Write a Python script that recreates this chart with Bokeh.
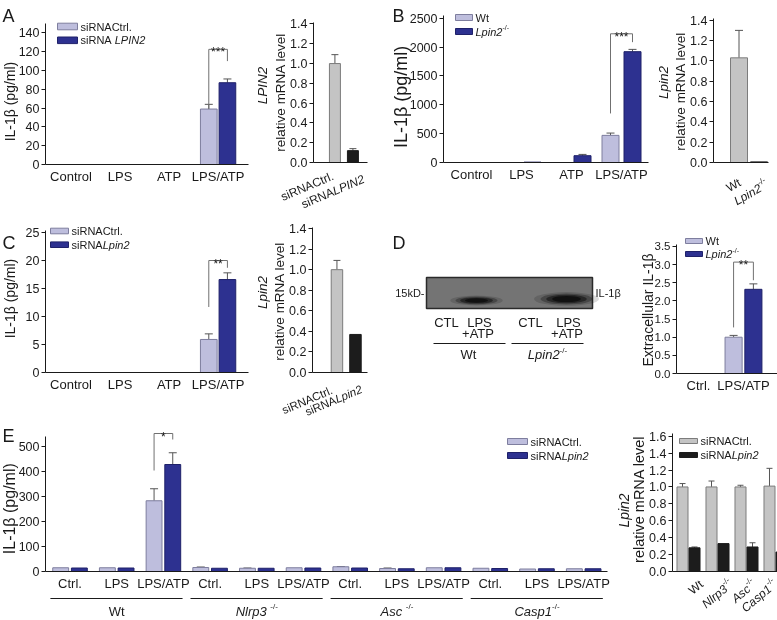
import math
from bokeh.plotting import figure
from bokeh.models import (Range1d, FixedTicker, Label, BoxAnnotation, Whisker, LinearAxis, Grid,
                          ColumnDataSource, TeeHead, NumeralTickFormatter)
from bokeh.layouts import row, column
from bokeh.embed import file_html
from bokeh.resources import INLINE

# ---------------- data ----------------
A_cats = ["Control", "LPS", "ATP", "LPS/ATP"]
A_ctrl = [0, 0, 0, 59]
A_ctrl_err = [0, 0, 0, 64]
A_lpin = [0, 0, 0, 87]
A_lpin_err = [0, 0, 0, 91]
A_yticks = [0, 20, 40, 60, 80, 100, 120, 140]
A_sig = [59, 122.5, 110]          # left leg bottom, bracket top, right leg bottom
A_mrna = [1.0, 0.12]
A_mrna_err = [1.09, 0.14]

mrna_yticks = [0, 0.2, 0.4, 0.6, 0.8, 1.0, 1.2, 1.4]

B_cats = ["Control", "LPS", "ATP", "LPS/ATP"]
B_wt = [0, 0, 0, 470]
B_wt_err = [0, 0, 0, 510]
B_ko = [0, 6, 118, 1920]
B_ko_err = [0, 6, 140, 1960]
B_yticks = [0, 500, 1000, 1500, 2000, 2500]
B_sig = [850, 2230, 2085]
B_mrna = [1.03, 0.006]
B_mrna_err = [1.30, 0.006]

C_cats = ["Control", "LPS", "ATP", "LPS/ATP"]
C_ctrl = [0, 0, 0, 5.9]
C_ctrl_err = [0, 0, 0, 6.9]
C_lpin = [0, 0, 0, 16.6]
C_lpin_err = [0, 0, 0, 17.8]
C_yticks = [0, 5, 10, 15, 20, 25]
C_sig = [11.7, 20, 18.7]
C_mrna = [1.0, 0.37]
C_mrna_err = [1.09, 0.37]

D_cats = ["Ctrl.", "LPS/ATP"]
D_wt = [0, 1.0]
D_wt_err = [0, 1.05]
D_ko = [0, 2.32]
D_ko_err = [0, 2.47]
D_yticks = [0, 0.5, 1.0, 1.5, 2.0, 2.5, 3.0, 3.5]
D_sig = [1.27, 3.07, 2.57]

E_genotypes = ["Wt", "Nlrp3", "Asc", "Casp1"]
E_treatments = ["Ctrl.", "LPS", "LPS/ATP"]
E_ctrl = [15, 15, 283, 16, 13, 15, 19, 12, 15, 13, 10, 11]
E_ctrl_err = [15, 15, 331, 18, 14, 15, 20, 14, 15, 13, 10, 11]
E_lpin = [14, 14, 428, 13, 13, 14, 14, 11, 15, 12, 11, 11]
E_lpin_err = [14, 14, 475, 13, 13, 14, 14, 11, 15, 12, 11, 11]
E_yticks = [0, 100, 200, 300, 400, 500]
E_sig = [404, 552, 528]
E_mrna_ctrl = [1.0, 1.0, 1.0, 1.01]
E_mrna_ctrl_err = [1.04, 1.07, 1.02, 1.22]
E_mrna_lpin = [0.28, 0.33, 0.29, 0.23]
E_mrna_lpin_err = [0.29, 0.33, 0.34, 0.28]
E_mrna_yticks = [0, 0.2, 0.4, 0.6, 0.8, 1.0, 1.2, 1.4, 1.6]

# ---------------- style ----------------
FONT = "Liberation Sans"
TXT = "#1a1a1a"
LIGHT, LIGHT_LINE = "#bebedd", "#7e7e9e"
DARK, DARK_LINE = "#2d3190", "#1f2169"
GRAY, GRAY_LINE = "#c4c4c4", "#7c7c7c"
BLACK = "#1c1c1c"
ERR = "#555555"
BRK = "#707070"

CW = {' ': 278, '-': 333, '/': 278, '.': 278, '1': 556, '2': 556, '3': 556, '5': 556,
      'A': 667, 'C': 722, 'I': 278, 'L': 556, 'N': 722, 'P': 667, 'R': 722, 'W': 944,
      'T': 611, 'S': 667, 'D': 722, 'a': 556, 'c': 500, 'e': 556, 'i': 222, 'l': 222,
      'n': 556, 'p': 556, 'r': 333, 's': 500, 't': 278, 'k': 500, '+': 584}

CAN = {}


def tw(s, size):
    return sum(CW.get(ch, 556) for ch in s) * size / 1000.0


def style_axis(ax, size="12.5px"):
    ax.axis_line_color = TXT
    ax.axis_line_width = 1
    ax.major_tick_line_color = TXT
    ax.major_tick_out = 4
    ax.major_tick_in = 0
    ax.minor_tick_line_color = None
    ax.major_label_text_font = FONT
    ax.major_label_text_color = TXT
    ax.major_label_standoff = 2
    ax.major_label_text_font_size = size


def base_fig(canvas, xrng, yrng):
    cx, cy, w, h = canvas
    p = figure(width=w, height=h, x_range=Range1d(*xrng), y_range=Range1d(*yrng),
               min_border_left=0, min_border_right=0, min_border_top=0, min_border_bottom=0,
               output_backend="svg", toolbar_location=None, tools="",
               x_axis_location=None, y_axis_location=None)
    try:
        p.frame_align = False
    except Exception:
        pass
    p.center = [c for c in p.center if not isinstance(c, Grid)]
    p.renderers = [r for r in p.renderers if not isinstance(r, Grid)]
    p.outline_line_color = None
    p.background_fill_color = None
    p.border_fill_color = None
    CAN[p.id] = canvas
    return p


def panel(canvas, box, xr, yr, ysize="12.5px"):
    """canvas: (x, y, w, h) on the page; box: axes frame (left, right, top, bottom) on the page."""
    cx, cy, w, h = canvas
    FL, FR, FT, FB = box
    kx = (FR - FL) / (xr[1] - xr[0])
    ky = (FB - FT) / (yr[1] - yr[0])
    xs = xr[0] - (FL - cx) / kx
    xe = xr[1] + (cx + w - FR) / kx
    ys = yr[0] - (cy + h - FB) / ky
    ye = yr[1] + (FT - cy) / ky
    p = base_fig(canvas, (xs, xe), (ys, ye))
    yax = LinearAxis(fixed_location=xr[0], bounds=yr)
    xax = LinearAxis(fixed_location=yr[0], bounds=xr)
    style_axis(yax, ysize)
    style_axis(xax)
    p.add_layout(yax, "left")
    p.add_layout(xax, "below")
    return p, xax, yax


def setup_x(xax, labels):
    xax.ticker = FixedTicker(ticks=list(range(len(labels))))
    xax.major_label_overrides = {i: lab for i, lab in enumerate(labels)}
    xax.major_tick_line_color = None
    xax.major_tick_out = 0
    xax.major_label_text_font_size = "13px"
    xax.major_label_standoff = 4


def setup_y(yax, ticks, fmt=None):
    yax.ticker = FixedTicker(ticks=ticks)
    if fmt:
        yax.formatter = NumeralTickFormatter(format=fmt)


def bars(p, xs, vals, errs, width, fill, line, cap=8):
    p.vbar(x=xs, top=vals, width=width, fill_color=fill, line_color=line, line_width=1)
    keep = [(x, v, e) for x, v, e in zip(xs, vals, errs) if e > v]
    if keep:
        src = ColumnDataSource(dict(base=[k[0] for k in keep], lower=[k[1] for k in keep],
                                    upper=[k[2] for k in keep]))
        p.add_layout(Whisker(source=src, base="base", lower="lower", upper="upper",
                             dimension="height", line_color=ERR, line_width=1,
                             upper_head=TeeHead(size=cap, line_color=ERR, line_width=1),
                             lower_head=None))


def mtext(p, X, Y, pieces, angle=0.0, align="left", baseline="middle", xdata=None, dx0=0.0):
    """X, Y: page coordinates of the anchor (X ignored when xdata is given)."""
    cx, cy, w, h = CAN[p.id]
    sy0 = cy + h - Y
    th = math.radians(angle)
    c, s = math.cos(th), math.sin(th)
    widths = [tw(t, sz) for (t, st, sz, r) in pieces]
    total = sum(widths)
    anchor = {"left": 0.0, "center": total / 2.0, "right": total}[align]
    a = 0.0
    for (t, st, sz, r), wd in zip(pieces, widths):
        d = a - anchor
        dx = d * c - r * s + dx0
        dy = d * s + r * c
        common = dict(text=t, angle=th, text_align="left", text_baseline=baseline,
                      text_font=FONT, text_font_size=f"{sz}px", text_font_style=st,
                      text_color=TXT, y=sy0 + dy, y_units="screen")
        if xdata is not None:
            lbl = Label(x=xdata, x_units="data", x_offset=dx, **common)
        else:
            lbl = Label(x=X - cx + dx, x_units="screen", **common)
        p.add_layout(lbl)
        a += wd


def letter(p, X, Y, t):
    mtext(p, X, Y, [(t, "normal", 18, 0)], baseline="alphabetic")


def legend_item(p, X, Ytop, w, h, fill, line, pieces, gap=3):
    cx, cy, cw, ch = CAN[p.id]
    p.add_layout(BoxAnnotation(left=X - cx, right=X - cx + w, top=cy + ch - Ytop,
                               bottom=cy + ch - Ytop - h,
                               left_units="screen", right_units="screen",
                               bottom_units="screen", top_units="screen",
                               fill_color=fill, fill_alpha=1, line_color=line, line_width=1,
                               line_alpha=1))
    mtext(p, X + w + gap, Ytop + h / 2.0, pieces)


def bracket(p, xl, xr, sig, text):
    yl, ytop, yr = sig
    p.line([xl, xl, xr, xr], [yl, ytop, ytop, yr], line_color=BRK, line_width=1)
    p.add_layout(Label(x=(xl + xr) / 2.0, y=ytop, x_units="data", y_units="data", text=text,
                       text_align="center", text_baseline="alphabetic", y_offset=-3,
                       text_font=FONT, text_font_size="12px", text_color=TXT))


def ylab(p, X, Y, text, size, style="normal"):
    mtext(p, X, Y, [(text, style, size, 0)], angle=90, align="center")


SUP = 8

# ---------------- Panel A ----------------
pA, xA, yA = panel((0, 0, 255, 212), (45, 248, 23, 164), (-0.52, 3.62), (0, 150))
setup_y(yA, A_yticks)
setup_x(xA, A_cats)
ix = list(range(len(A_cats)))
bars(pA, [i - 0.19 for i in ix], A_ctrl, A_ctrl_err, 0.34, LIGHT, LIGHT_LINE)
bars(pA, [i + 0.19 for i in ix], A_lpin, A_lpin_err, 0.34, DARK, DARK_LINE)
bracket(pA, 3 - 0.19, 3 + 0.19, A_sig, "***")
letter(pA, 2, 15, "A")
ylab(pA, 9, 100, "IL-1β (pg/ml)", 14)
legend_item(pA, 57, 22.7, 20, 6.6, LIGHT, LIGHT_LINE, [("siRNACtrl.", "normal", 11, 0)])
legend_item(pA, 57, 36.5, 20, 6.6, DARK, DARK_LINE,
            [("siRNA ", "normal", 11, 0), ("LPIN2", "italic", 11, 0)])

pAm, xAm, yAm = panel((255, 0, 135, 212), (313, 367, 22, 162), (-1.19, 1.81), (0, 1.415))
setup_y(yAm, mrna_yticks, "0.0")
xAm.ticker = FixedTicker(ticks=[])
bars(pAm, [0], A_mrna[:1], A_mrna_err[:1], 0.61, GRAY, GRAY_LINE, cap=7)
bars(pAm, [1], A_mrna[1:], A_mrna_err[1:], 0.61, BLACK, BLACK, cap=7)
ylab(pAm, 262, 85, "LPIN2", 13.5, "italic")
ylab(pAm, 280, 93, "relative mRNA level", 13.5)
mtext(pAm, 0, 175, [("siRNACtrl.", "normal", 12, 0)], angle=23, align="right", xdata=0, dx0=-2)
mtext(pAm, 0, 178, [("siRNA", "normal", 12, 0), ("LPIN2", "italic", 12, 0)],
      angle=23, align="right", xdata=1, dx0=11)

# ---------------- Panel B ----------------
pB, xB, yB = panel((390, 0, 260, 212), (443, 648, 15, 162), (-0.56, 3.54), (0, 2547))
setup_y(yB, B_yticks)
setup_x(xB, B_cats)
ix = list(range(len(B_cats)))
bars(pB, [i - 0.22 for i in ix], B_wt, B_wt_err, 0.34, LIGHT, LIGHT_LINE)
bars(pB, [i + 0.22 for i in ix], B_ko, B_ko_err, 0.34, DARK, DARK_LINE)
bracket(pB, 3 - 0.22, 3 + 0.22, B_sig, "***")
letter(pB, 392, 15, "B")
ylab(pB, 400, 95, "IL-1β (pg/ml)", 18)
legend_item(pB, 455, 14, 17, 6, LIGHT, LIGHT_LINE, [("Wt", "normal", 11, 0)])
legend_item(pB, 455, 28, 17, 6, DARK, DARK_LINE, [("Lpin2", "italic", 11, 0), ("-/-", "normal", 7, 4)])

pBm, xBm, yBm = panel((650, 0, 127, 212), (713, 768, 18, 162), (-1.275, 1.475), (0, 1.417))
setup_y(yBm, mrna_yticks, "0.0")
xBm.ticker = FixedTicker(ticks=[])
bars(pBm, [0], B_mrna[:1], B_mrna_err[:1], 0.85, GRAY, GRAY_LINE, cap=8)
bars(pBm, [1], B_mrna[1:], B_mrna_err[1:], 0.85, BLACK, BLACK, cap=8)
ylab(pBm, 663, 82, "Lpin2", 13.5, "italic")
ylab(pBm, 680, 92, "relative mRNA level", 13.5)
mtext(pBm, 0, 181, [("Wt", "normal", 12, 0)], angle=30, align="right", xdata=0, dx0=1)
mtext(pBm, 0, 183, [("Lpin2", "italic", 12, 0), ("-/-", "normal", SUP, 4.5)],
      angle=30, align="right", xdata=1, dx0=8)

# ---------------- Panel C ----------------
pC, xC, yC = panel((0, 212, 255, 206), (45, 248, 230, 372), (-0.52, 3.62), (0, 25.36))
setup_y(yC, C_yticks)
setup_x(xC, C_cats)
ix = list(range(len(C_cats)))
bars(pC, [i - 0.19 for i in ix], C_ctrl, C_ctrl_err, 0.34, LIGHT, LIGHT_LINE)
bars(pC, [i + 0.19 for i in ix], C_lpin, C_lpin_err, 0.34, DARK, DARK_LINE)
bracket(pC, 3 - 0.19, 3 + 0.19, C_sig, "**")
letter(pC, 2, 242, "C")
ylab(pC, 9, 297, "IL-1β (pg/ml)", 14)
legend_item(pC, 50, 227.7, 18, 5.6, LIGHT, LIGHT_LINE, [("siRNACtrl.", "normal", 11, 0)])
legend_item(pC, 50, 241.4, 18, 5.6, DARK, DARK_LINE,
            [("siRNA", "normal", 11, 0), ("Lpin2", "italic", 11, 0)])

pCm, xCm, yCm = panel((255, 212, 135, 206), (312, 367, 227, 372), (-1.32, 1.65), (0, 1.41))
setup_y(yCm, mrna_yticks, "0.0")
xCm.ticker = FixedTicker(ticks=[])
bars(pCm, [0], C_mrna[:1], C_mrna_err[:1], 0.62, GRAY, GRAY_LINE, cap=7)
bars(pCm, [1], C_mrna[1:], C_mrna_err[1:], 0.62, BLACK, BLACK, cap=7)
ylab(pCm, 262, 292, "Lpin2", 13.5, "italic")
ylab(pCm, 279, 302, "relative mRNA level", 13.5)
mtext(pCm, 0, 389, [("siRNACtrl.", "normal", 11.5, 0)], angle=23, align="right", xdata=0, dx0=-5)
mtext(pCm, 0, 388, [("siRNA", "normal", 11.5, 0), ("Lpin2", "italic", 11.5, 0)],
      angle=23, align="right", xdata=1, dx0=6)

# ---------------- Panel D (blot) ----------------
pD = base_fig((390, 212, 250, 206), (390, 640), (418, 212))
pD.quad(left=[426], right=[592], top=[277], bottom=[308], fill_color="#747474",
        line_color="#2a2a2a", line_width=1.5)
for cxb, cyb, bw, bh in [(476, 300, 42, 8), (566, 298.5, 52, 11)]:
    for f, al in [(1.25, 0.15), (1.0, 0.3), (0.78, 0.5), (0.55, 0.7)]:
        pD.ellipse(x=[cxb], y=[cyb], width=[bw * f], height=[bh * f], width_units="screen",
                   height_units="screen", fill_color="#080808", fill_alpha=al, line_color=None)
pD.segment(x0=[433, 511], y0=[343, 343], x1=[505, 583], y1=[343, 343], line_color=TXT, line_width=1)
letter(pD, 392, 242, "D")
mtext(pD, 424, 292, [("15kD-", "normal", 11, 0)], align="right")
mtext(pD, 595, 292, [("IL-1β", "normal", 11, 0)])
for x0 in (446, 530):
    mtext(pD, x0, 322, [("CTL", "normal", 13, 0)], align="center")
for x0 in (479, 568):
    mtext(pD, x0, 322, [("LPS", "normal", 13, 0)], align="center")
    mtext(pD, x0 - 1, 333, [("+ATP", "normal", 13, 0)], align="center")
mtext(pD, 468, 354, [("Wt", "normal", 13, 0)], align="center")
mtext(pD, 547, 354, [("Lpin2", "italic", 13, 0), ("-/-", "normal", SUP, 4.5)], align="center")

pDr, xDr, yDr = panel((640, 212, 137, 206), (676, 777, 244, 373), (-0.489, 1.756), (0, 3.555),
                      ysize="11.5px")
setup_y(yDr, D_yticks, "0.0")
setup_x(xDr, D_cats)
ix = list(range(len(D_cats)))
bars(pDr, [i - 0.22 for i in ix], D_wt, D_wt_err, 0.38, LIGHT, LIGHT_LINE)
bars(pDr, [i + 0.22 for i in ix], D_ko, D_ko_err, 0.38, DARK, DARK_LINE)
bracket(pDr, 1 - 0.22, 1 + 0.22, D_sig, "**")
ylab(pDr, 647, 310, "Extracellular IL-1β", 14)
legend_item(pDr, 685, 238, 17, 5, LIGHT, LIGHT_LINE, [("Wt", "normal", 11, 0)])
legend_item(pDr, 685, 251, 17, 5, DARK, DARK_LINE, [("Lpin2", "italic", 11, 0), ("-/-", "normal", 7, 4)])

# ---------------- Panel E ----------------
pE, xE, yE = panel((0, 418, 610, 202), (45, 607, 436, 571), (-0.525, 11.51), (0, 540))
setup_y(yE, E_yticks)
E_labels = [t for g in E_genotypes for t in E_treatments]
setup_x(xE, E_labels)
nE = len(E_ctrl)
ix = list(range(nE))
bars(pE, [i - 0.2 for i in ix], E_ctrl, E_ctrl_err, 0.34, LIGHT, LIGHT_LINE)
bars(pE, [i + 0.2 for i in ix], E_lpin, E_lpin_err, 0.34, DARK, DARK_LINE)
bracket(pE, 2 - 0.2, 2 + 0.2, E_sig, "*")
ng = len(E_treatments)
nG = len(E_genotypes)
pE.segment(x0=[ng * g - 0.42 for g in range(nG)], y0=[-108] * nG,
           x1=[ng * g + 2.41 for g in range(nG)], y1=[-108] * nG,
           line_color=TXT, line_width=1)
for g, name in enumerate(E_genotypes):
    if g == 0:
        pieces = [(name, "normal", 13, 0)]
    elif g == 3:
        pieces = [(name, "italic", 13, 0), ("-/-", "normal", SUP, 5)]
    else:
        pieces = [(name + " ", "italic", 13, 0), ("-/-", "normal", SUP, 5)]
    mtext(pE, 0, 611, pieces, align="center", xdata=ng * g + 1)
letter(pE, 2, 435, "E")
ylab(pE, 9, 507, "IL-1β (pg/ml)", 16)
legend_item(pE, 507, 438, 20, 6, LIGHT, LIGHT_LINE, [("siRNACtrl.", "normal", 11, 0)])
legend_item(pE, 507, 452, 20, 6, DARK, DARK_LINE,
            [("siRNA", "normal", 11, 0), ("Lpin2", "italic", 11, 0)])

pEm, xEm, yEm = panel((610, 418, 167, 202), (672, 777, 433, 571), (-0.552, 3.069), (0, 1.632))
setup_y(yEm, E_mrna_yticks, "0.0")
xEm.ticker = FixedTicker(ticks=[])
ix = list(range(len(E_mrna_ctrl)))
bars(pEm, [i - 0.207 for i in ix], E_mrna_ctrl, E_mrna_ctrl_err, 0.38, GRAY, GRAY_LINE, cap=6)
bars(pEm, [i + 0.207 for i in ix], E_mrna_lpin, E_mrna_lpin_err, 0.38, BLACK, BLACK, cap=6)
ylab(pEm, 623, 510, "Lpin2", 14, "italic")
ylab(pEm, 638, 500, "relative mRNA level", 14.5)
legend_item(pEm, 679, 438, 18, 5, GRAY, GRAY_LINE, [("siRNACtrl.", "normal", 11, 0)])
legend_item(pEm, 679, 452, 18, 5, BLACK, BLACK,
            [("siRNA", "normal", 11, 0), ("Lpin2", "italic", 11, 0)])
em_dx = [13, 14, 8, 0]
for g, name in enumerate(E_genotypes):
    if g == 0:
        pieces = [(name, "normal", 12, 0)]
    else:
        pieces = [(name, "italic", 12, 0), ("-/-", "normal", SUP, 4.5)]
    mtext(pEm, 0, 582, pieces, angle=40, align="right", xdata=g, dx0=em_dx[g])

# ---------------- layout ----------------
root = column(row(pA, pAm, pB, pBm), row(pC, pCm, pD, pDr), row(pE, pEm))
root.styles = {"position": "fixed", "left": "0px", "top": "0px"}

open("out.html", "w").write(file_html(root, INLINE))
